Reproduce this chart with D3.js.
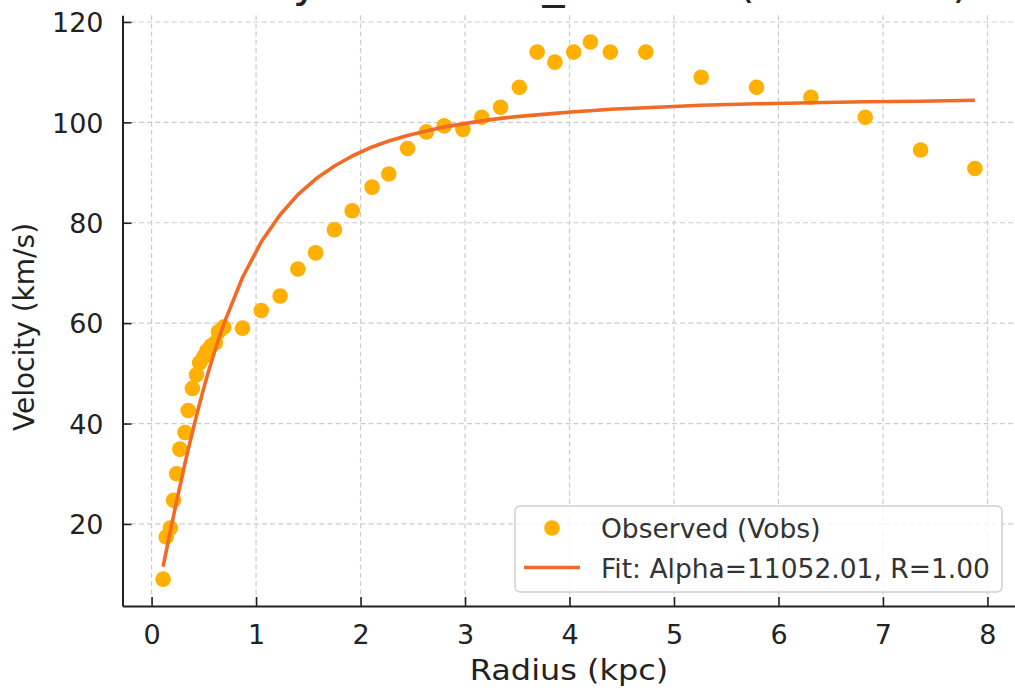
<!DOCTYPE html>
<html>
<head>
<meta charset="utf-8">
<script src="https://cdn.jsdelivr.net/npm/d3@7"></script>
<style>
  html, body { margin: 0; padding: 0; background: #fff; }
  svg { display: block; font-family: "DejaVu Sans", sans-serif; }
</style>
</head>
<body>
<svg id="chart" width="1015" height="691"></svg>
<script>
// Galaxy rotation curve: observed velocities and fitted model
const radius = [0.11, 0.14, 0.18, 0.21, 0.24, 0.27, 0.32, 0.35, 0.39, 0.43,
                0.46, 0.50, 0.53, 0.57, 0.61, 0.64, 0.69, 0.87, 1.05, 1.23,
                1.40, 1.57, 1.75, 1.92, 2.11, 2.27, 2.45, 2.63, 2.80, 2.98,
                3.16, 3.34, 3.52, 3.69, 3.86, 4.04, 4.20, 4.39, 4.73, 5.26,
                5.79, 6.31, 6.83, 7.36, 7.88];
const vObs = [9.0, 17.4, 19.2, 24.7, 30.0, 34.9, 38.2, 42.6, 47.0, 49.7,
              52.1, 53.3, 54.5, 55.5, 56.1, 58.3, 59.2, 59.0, 62.5, 65.4,
              70.8, 74.0, 78.6, 82.4, 87.1, 89.7, 94.8, 98.1, 99.3, 98.6,
              101.0, 103.0, 107.0, 114.0, 112.0, 114.0, 116.0, 114.0, 114.0, 109.0,
              107.0, 105.0, 101.0, 94.5, 90.8];
const vFit = [11.5, 14.6, 18.6, 21.6, 24.6, 27.4, 32.1, 34.8, 38.2, 41.6,
              44.0, 47.1, 49.3, 52.1, 54.8, 56.7, 59.8, 69.1, 76.2, 81.6,
              85.6, 88.7, 91.3, 93.3, 95.1, 96.3, 97.4, 98.3, 99.1, 99.7,
              100.3, 100.8, 101.2, 101.5, 101.8, 102.1, 102.3, 102.6, 102.9, 103.4,
              103.7, 103.9, 104.1, 104.2, 104.4];
const xTicks = [0, 1, 2, 3, 4, 5, 6, 7, 8];
const yTicks = [20, 40, 60, 80, 100, 120];
const titleText = "Galaxy NGC2403_rotmod (Fit Model)";
const xLabel = "Radius (kpc)";
const yLabel = "Velocity (km/s)";
const legendObs = "Observed (Vobs)";
const legendFit = "Fit: Alpha=11052.01, R=1.00";

const obsColor = "#FFB000";
const fitColor = "#F26B26";
const inkColor = "#222222";
const gridColor = "#cbcbcb";

const svg = d3.select("#chart");
const plot = { left: 122.5, right: 1015.5, top: 15.2, bottom: 606 };

// autoscale with 5% padding on each side
function padded(values) {
  const lo = d3.min(values), hi = d3.max(values);
  const m = (hi - lo) * 0.05;
  return [lo - m, hi + m];
}
const x = d3.scaleLinear().domain(padded(radius)).range([plot.left, plot.right]);
const y = d3.scaleLinear().domain(padded(vObs.concat(vFit))).range([plot.bottom, plot.top]);

// title (sits above the plot area, mostly outside the frame)
svg.append("text")
  .attr("x", (plot.left + plot.right) / 2 - 1)
  .attr("y", -3.5)
  .attr("text-anchor", "middle")
  .attr("font-size", 44)
  .attr("fill", inkColor)
  .text(titleText);

// grid
const grid = svg.append("g").attr("stroke", gridColor).attr("stroke-width", 1.2)
  .attr("stroke-dasharray", "5,3.2").attr("fill", "none");
grid.selectAll("line.gx").data(xTicks).join("line")
  .attr("x1", d => x(d)).attr("x2", d => x(d))
  .attr("y1", plot.top).attr("y2", plot.bottom);
grid.selectAll("line.gy").data(yTicks).join("line")
  .attr("x1", plot.left).attr("x2", plot.right)
  .attr("y1", d => y(d)).attr("y2", d => y(d));

// axes with inward ticks
const xAxis = svg.append("g")
  .attr("transform", `translate(0,${plot.bottom})`)
  .call(d3.axisBottom(x).tickValues(xTicks).tickFormat(d3.format("d")).tickSizeInner(-9).tickSizeOuter(0).tickPadding(19));
const yAxis = svg.append("g")
  .attr("transform", `translate(${plot.left},0)`)
  .call(d3.axisLeft(y).tickValues(yTicks).tickFormat(d3.format("d")).tickSizeInner(-9).tickSizeOuter(0).tickPadding(19));

[xAxis, yAxis].forEach(g => {
  g.select(".domain").attr("stroke", inkColor).attr("stroke-width", 2);
  g.selectAll(".tick line").attr("stroke", inkColor).attr("stroke-width", 1.6);
  g.selectAll(".tick text").attr("fill", inkColor).attr("font-size", 27)
    .attr("font-family", "DejaVu Sans, sans-serif");
});
xAxis.selectAll(".tick text").attr("dy", "0.71em");
yAxis.selectAll(".tick text").attr("dy", "0.36em");

// axis labels
svg.append("text")
  .attr("transform", `translate(${(plot.left + plot.right) / 2},680) scale(1.14,1)`)
  .attr("text-anchor", "middle")
  .attr("font-size", 28)
  .attr("fill", inkColor)
  .text(xLabel);
svg.append("text")
  .attr("transform", `translate(34,327) rotate(-90)`)
  .attr("text-anchor", "middle")
  .attr("font-size", 28)
  .attr("fill", inkColor)
  .text(yLabel);

// observed points
svg.append("g").selectAll("circle").data(radius).join("circle")
  .attr("cx", d => x(d))
  .attr("cy", (d, i) => y(vObs[i]))
  .attr("r", 7.8)
  .attr("fill", obsColor);

// fitted curve
const line = d3.line().x(d => x(d[0])).y(d => y(d[1]));
svg.append("path")
  .datum(radius.map((r, i) => [r, vFit[i]]))
  .attr("d", line)
  .attr("fill", "none")
  .attr("stroke", fitColor)
  .attr("stroke-width", 3.6)
  .attr("stroke-linejoin", "round");

// legend
const lg = svg.append("g").attr("transform", "translate(515,506)");
lg.append("rect")
  .attr("width", 487).attr("height", 86).attr("rx", 5)
  .attr("fill", "#ffffff").attr("fill-opacity", 0.8)
  .attr("stroke", "#d0d0d0").attr("stroke-width", 1.5);
lg.append("circle").attr("cx", 37).attr("cy", 22).attr("r", 7.8).attr("fill", obsColor);
lg.append("line").attr("x1", 9).attr("x2", 65).attr("y1", 61.5).attr("y2", 61.5)
  .attr("stroke", fitColor).attr("stroke-width", 3.6);
lg.append("text").attr("x", 86).attr("y", 31.5).attr("font-size", 26.5).attr("fill", "#333")
  .text(legendObs);
lg.append("text").attr("x", 86).attr("y", 71.5).attr("font-size", 26.5).attr("fill", "#333")
  .text(legendFit);
</script>
</body>
</html>
